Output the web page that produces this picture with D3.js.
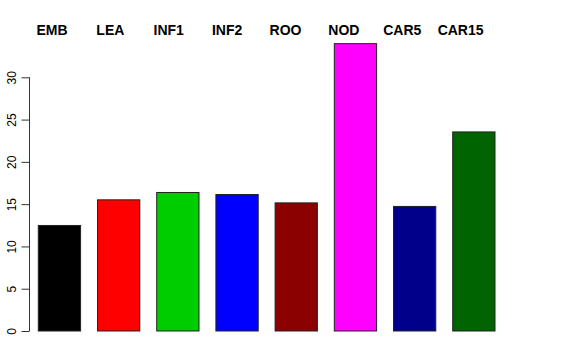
<!DOCTYPE html>
<html>
<head>
<meta charset="utf-8">
<script src="https://cdn.jsdelivr.net/npm/d3@7"></script>
<style>
  html, body { margin: 0; padding: 0; background: #fff; }
  svg { display: block; }
</style>
</head>
<body>
<div id="chart"></div>
<script>
// ---- data ----
const categories = ["EMB", "LEA", "INF1", "INF2", "ROO", "NOD", "CAR5", "CAR15"];
const values = [12.48, 15.51, 16.38, 16.14, 15.15, 33.98, 14.73, 23.54];
const colors = ["#000000", "#FF0000", "#00CD00", "#0000FF", "#8B0000", "#FF00FF", "#00008B", "#006400"];
const yTicks = [0, 5, 10, 15, 20, 25, 30];

// ---- layout ----
const W = 576, H = 360;
const svg = d3.select("#chart").append("svg")
  .attr("width", W).attr("height", H)
  .style("font-family", "'Liberation Sans', Arial, Helvetica, sans-serif");

const y = d3.scaleLinear().domain([0, 30]).range([331, 77.3]);

const x = d3.scaleBand()
  .domain(categories)
  .range([38.3 - 0.2 * 59.2, 495 + 0.2 * 59.2])
  .paddingInner(0.4 / 1.4)
  .paddingOuter(0.2 / 1.4 / (1 - 0.4/1.4) * 0 + 0.2);

// label positions (top labels are offset from bars in the original)
const xl = d3.scalePoint().domain(categories).range([52, 460.6]);

// bars
svg.append("g").selectAll("rect")
  .data(categories)
  .join("rect")
  .attr("x", d => x(d))
  .attr("width", x.bandwidth())
  .attr("y", (d, i) => y(values[i]))
  .attr("height", (d, i) => y(0) - y(values[i]))
  .attr("fill", (d, i) => colors[i])
  .attr("stroke", "#222")
  .attr("stroke-width", 1);

// y axis
const axisX = 29.5;
const gy = svg.append("g")
  .attr("transform", `translate(${axisX},0)`)
  .call(d3.axisLeft(y).tickValues(yTicks).tickSize(8).tickSizeOuter(0));
gy.select(".domain").attr("stroke", "#333").attr("d", `M0,${y(0)}V${y(30)}`);
gy.selectAll(".tick line").attr("stroke", "#333");
gy.selectAll(".tick text")
  .attr("x", 0).attr("dy", 0)
  .attr("transform", "translate(-13.5,0) rotate(-90)")
  .attr("text-anchor", "middle")
  .attr("fill", "#000")
  .style("font-size", "12px")
  .style("font-family", "'Liberation Sans', Arial, sans-serif");

// top category labels
svg.append("g").selectAll("text")
  .data(categories)
  .join("text")
  .attr("x", d => xl(d))
  .attr("y", 35)
  .attr("text-anchor", "middle")
  .style("font-size", "14px")
  .style("font-weight", "bold")
  .text(d => d);
</script>
</body>
</html>
